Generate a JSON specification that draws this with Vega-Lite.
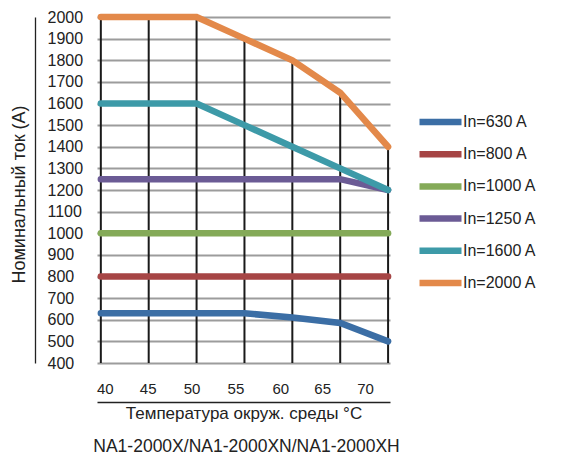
{
  "$schema": "https://vega.github.io/schema/vega-lite/v6.json",
  "width": 293,
  "height": 346,
  "autosize": {"type": "none"},
  "padding": {"left": 97, "top": 17, "right": 173, "bottom": 91},
  "background": "white",
  "config": {"font": "Liberation Sans", "view": {"stroke": null}},
  "title": {"text": "NA1-2000X/NA1-2000XN/NA1-2000XH", "orient": "bottom", "anchor": "middle", "fontSize": 17.5, "fontWeight": "normal", "color": "#222", "offset": 16.5, "dx": 3},
  "data": {"values": [
    {"series": "In=630 A", "t": 40, "a": 630},
    {"series": "In=630 A", "t": 45, "a": 630},
    {"series": "In=630 A", "t": 50, "a": 630},
    {"series": "In=630 A", "t": 55, "a": 630},
    {"series": "In=630 A", "t": 60, "a": 610},
    {"series": "In=630 A", "t": 65, "a": 585},
    {"series": "In=630 A", "t": 70, "a": 500},
    {"series": "In=800 A", "t": 40, "a": 800},
    {"series": "In=800 A", "t": 45, "a": 800},
    {"series": "In=800 A", "t": 50, "a": 800},
    {"series": "In=800 A", "t": 55, "a": 800},
    {"series": "In=800 A", "t": 60, "a": 800},
    {"series": "In=800 A", "t": 65, "a": 800},
    {"series": "In=800 A", "t": 70, "a": 800},
    {"series": "In=1000 A", "t": 40, "a": 1000},
    {"series": "In=1000 A", "t": 45, "a": 1000},
    {"series": "In=1000 A", "t": 50, "a": 1000},
    {"series": "In=1000 A", "t": 55, "a": 1000},
    {"series": "In=1000 A", "t": 60, "a": 1000},
    {"series": "In=1000 A", "t": 65, "a": 1000},
    {"series": "In=1000 A", "t": 70, "a": 1000},
    {"series": "In=1250 A", "t": 40, "a": 1250},
    {"series": "In=1250 A", "t": 45, "a": 1250},
    {"series": "In=1250 A", "t": 50, "a": 1250},
    {"series": "In=1250 A", "t": 55, "a": 1250},
    {"series": "In=1250 A", "t": 60, "a": 1250},
    {"series": "In=1250 A", "t": 65, "a": 1250},
    {"series": "In=1250 A", "t": 70, "a": 1200},
    {"series": "In=1600 A", "t": 40, "a": 1600},
    {"series": "In=1600 A", "t": 45, "a": 1600},
    {"series": "In=1600 A", "t": 50, "a": 1600},
    {"series": "In=1600 A", "t": 55, "a": 1500},
    {"series": "In=1600 A", "t": 60, "a": 1400},
    {"series": "In=1600 A", "t": 65, "a": 1300},
    {"series": "In=1600 A", "t": 70, "a": 1200},
    {"series": "In=2000 A", "t": 40, "a": 2000},
    {"series": "In=2000 A", "t": 45, "a": 2000},
    {"series": "In=2000 A", "t": 50, "a": 2000},
    {"series": "In=2000 A", "t": 55, "a": 1900},
    {"series": "In=2000 A", "t": 60, "a": 1800},
    {"series": "In=2000 A", "t": 65, "a": 1650},
    {"series": "In=2000 A", "t": 70, "a": 1400}
  ]},
  "encoding": {
    "x": {
      "field": "t", "type": "quantitative",
      "scale": {"domain": [39.6, 70.2], "nice": false, "zero": false},
      "axis": {
        "title": "Температура окруж. среды °C",
        "values": [40, 45, 50, 55, 60, 65, 70],
        "offset": 39,
        "domainColor": "#222", "domainWidth": 1.3,
        "ticks": false, "tickSize": 0,
        "labelPadding": -14, "labelBaseline": "middle",
        "labelFontSize": 15, "labelColor": "#222", "labelFlush": false,
        "labelOffset": {
          "condition": [
            {"test": "datum.value == 40", "value": 4},
            {"test": "datum.value == 45", "value": -1},
            {"test": "datum.value == 50", "value": -5},
            {"test": "datum.value == 55", "value": -9},
            {"test": "datum.value == 60", "value": -12},
            {"test": "datum.value == 65", "value": -18}
          ],
          "value": -23
        },
        "grid": false,
        "titleFontSize": 17, "titleFontWeight": "normal", "titleColor": "#222",
        "titleY": 11, "titleBaseline": "middle"
      }
    },
    "y": {
      "field": "a", "type": "quantitative",
      "scale": {"domain": [400, 2000], "nice": false, "zero": false},
      "axis": {
        "title": "Номинальный ток (А)",
        "values": [400, 500, 600, 700, 800, 900, 1000, 1100, 1200, 1300, 1400, 1500, 1600, 1700, 1800, 1900, 2000],
        "format": "d",
        "offset": 62,
        "domainColor": "#222", "domainWidth": 1.3,
        "ticks": false, "tickSize": 0,
        "labelAlign": "left", "labelPadding": -12, "labelBaseline": "middle",
        "labelFontSize": 16, "labelColor": "#222", "labelFlush": false, "labelOverlap": false,
        "grid": true, "gridColor": "#9c9c9c", "gridWidth": 2,
        "titleFontSize": 18, "titleFontWeight": "normal", "titleColor": "#222",
        "titleX": -16, "titleY": 177, "titleAngle": -90, "titleAlign": "center", "titleBaseline": "middle"
      }
    }
  },
  "layer": [
    {
      "transform": [{"filter": "datum.series === 'In=2000 A'"}],
      "mark": {"type": "rule", "color": "#1a1a1a", "strokeWidth": 2},
      "encoding": {
        "y2": {"datum": 400}
      }
    },
    {
      "mark": {"type": "line", "strokeWidth": 6.5, "strokeCap": "round"},
      "encoding": {
        "color": {
          "field": "series", "type": "nominal",
          "scale": {
            "domain": ["In=630 A", "In=800 A", "In=1000 A", "In=1250 A", "In=1600 A", "In=2000 A"],
            "range": ["#3b6ea5", "#a64545", "#84aa58", "#6b5b95", "#3d9aa8", "#e3894a"]
          },
          "legend": {
            "orient": "none", "legendX": 333, "legendY": 94.5, "title": null,
            "symbolType": "M-3,0L3,0", "symbolSize": 196, "symbolStrokeWidth": 6.5,
            "labelFontSize": 16, "labelColor": "#222", "labelOffset": 12, "rowPadding": 5.2
          }
        }
      }
    }
  ]
}
